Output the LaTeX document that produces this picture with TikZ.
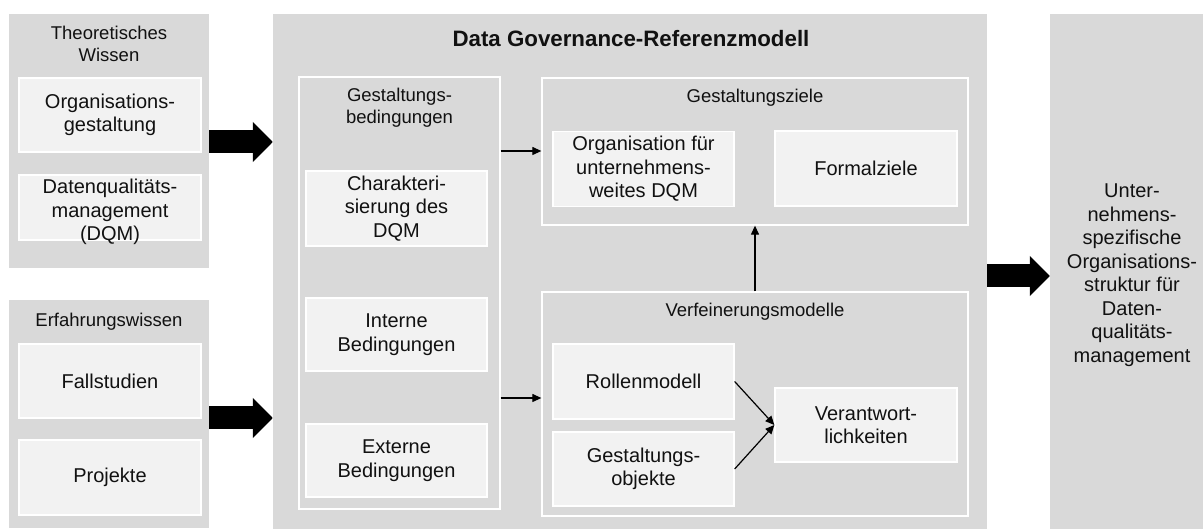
\documentclass[tikz,border=0pt]{standalone}
\usepackage{fontspec}
\setmainfont{Liberation Sans}
\usetikzlibrary{arrows.meta,calc}
\definecolor{panelgray}{HTML}{D9D9D9}
\definecolor{cellgray}{HTML}{F2F2F2}
\definecolor{inktext}{HTML}{111111}
\begin{document}
\begin{tikzpicture}[x=1pt,y=-1pt,
  panel/.style={fill=panelgray, draw=none, inner sep=0pt},
  frame/.style={draw=white, line width=1.3pt, fill=none, inner sep=0pt},
  cellbox/.style={fill=cellgray, draw=white, line width=1.3pt, inner sep=0pt,
    align=center, text=inktext, font=\fontsize{20}{23.5}\selectfont},
  heading/.style={align=center, inner sep=0pt, text=inktext,
    font=\fontsize{18.5}{22}\selectfont},
  bigtitle/.style={inner sep=0pt, text=inktext, font=\fontsize{22.3}{26}\selectfont\bfseries},
  bodytext/.style={align=center, inner sep=0pt, text=inktext,
    font=\fontsize{20}{23.5}\selectfont},
  fat/.style={line width=23pt, -{Triangle[length=20pt,width=39pt]}},
  thin/.style={line width=1.2pt, -{Triangle[length=9pt,width=8pt]}}]

\useasboundingbox (0,0) rectangle (1203,529);

% outer panels
\node[panel, minimum width=200pt, minimum height=254pt] (tw) at (109,141) {};
\node[panel, minimum width=200pt, minimum height=228pt] (ew) at (109,414) {};
\node[panel, minimum width=714pt, minimum height=515pt] (main) at (630,271.5) {};
\node[panel, minimum width=160pt, minimum height=515pt] (rb) at (1130,271.5) {};

% theoretical knowledge
\node[heading] (twt) at (109,44) {Theoretisches\\Wissen};
\node[cellbox, minimum width=182pt, minimum height=74pt] (og) at (110,115) {Organisations-\\gestaltung};
\node[cellbox, minimum width=182pt, minimum height=65pt] (dq) at (110,207.5) {};
\node[bodytext] (dqt) at (110,212) {Datenqualitäts-\\management\\(DQM)};

% experience knowledge
\node[heading] (ewt) at (109,322) {Erfahrungswissen};
\node[cellbox, minimum width=182pt, minimum height=74pt] (fs) at (110,381) {Fallstudien};
\node[cellbox, minimum width=182pt, minimum height=75pt] (pj) at (110,477.5) {Projekte};

% reference model
\node[bigtitle] (mt) at (631,39) {Data Governance-Referenzmodell};

\node[frame, minimum width=201pt, minimum height=432pt] (gb) at (399.5,293) {};
\node[heading] (gbt) at (399.5,108) {Gestaltungs-\\bedingungen};
\node[cellbox, minimum width=181pt, minimum height=75pt] (ch) at (396.5,208.5) {Charakteri-\\sierung des\\DQM};
\node[cellbox, minimum width=181pt, minimum height=73pt] (ib) at (396.5,334.5) {Interne\\Bedingungen};
\node[cellbox, minimum width=181pt, minimum height=73pt] (eb) at (396.5,460.5) {Externe\\Bedingungen};

\node[frame, minimum width=426pt, minimum height=147pt] (gz) at (755,151.5) {};
\node[heading] (gzt) at (755,98) {Gestaltungsziele};
\node[cellbox, minimum width=181pt, minimum height=75pt] (ou) at (643.5,169) {Organisation für\\unternehmens-\\weites DQM};
\node[cellbox, minimum width=182pt, minimum height=75pt] (fz) at (866,168.5) {Formalziele};

\node[frame, minimum width=426pt, minimum height=224pt] (vm) at (755,404) {};
\node[heading] (vmt) at (755,312) {Verfeinerungsmodelle};
\node[cellbox, minimum width=181pt, minimum height=75pt] (rm) at (643.5,381.5) {Rollenmodell};
\node[cellbox, minimum width=181pt, minimum height=74pt] (go) at (643.5,469) {Gestaltungs-\\objekte};
\node[cellbox, minimum width=182pt, minimum height=74pt] (vw) at (866,425) {Verantwort-\\lichkeiten};

% result
\node[bodytext] (rbt) at (1132,275) {Unter-\\nehmens-\\spezifische\\Organisations-\\struktur für\\Daten-\\qualitäts-\\management};

% flow levels
\coordinate (ya) at (0,142);
\coordinate (yb) at (0,418);
\coordinate (yc) at (0,276);
\coordinate (yd) at (0,151);
\coordinate (ye) at (0,398);

% connectors
\draw[fat] (tw.east |- ya) -- (main.west |- ya);
\draw[fat] (ew.east |- yb) -- (main.west |- yb);
\draw[fat] (main.east |- yc) -- (rb.west |- yc);

\draw[thin] (gb.east |- yd) -- (gz.west |- yd);
\draw[thin] (gb.east |- ye) -- (vm.west |- ye);
\draw[thin] (vm.north) -- (gz.south);
\draw[thin] (rm.east) -- (vw.west);
\draw[thin] (go.east) -- (vw.west);
\end{tikzpicture}
\end{document}
